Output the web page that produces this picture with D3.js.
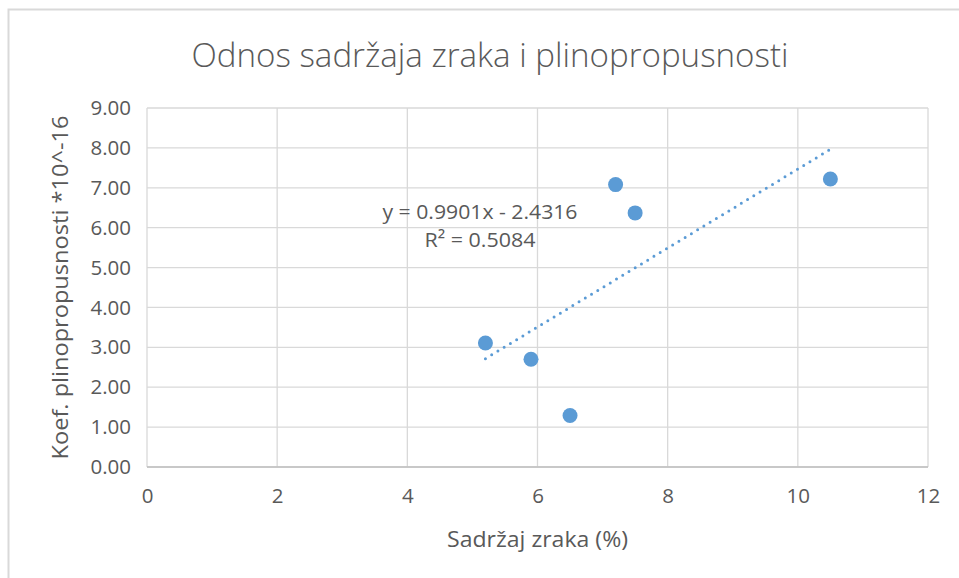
<!DOCTYPE html>
<html>
<head>
<meta charset="utf-8">
<script src="https://cdn.jsdelivr.net/npm/d3@7"></script>
<style>
  html, body { margin: 0; padding: 0; background: #fff; }
  svg { display: block; }
</style>
</head>
<body>
<div id="chart"></div>
<script>
// Air content (%) vs. gas permeability coefficient (*10^-16)
const airContent = [5.2, 5.9, 6.5, 7.2, 7.5, 10.5];
const permeability = [3.11, 2.70, 1.29, 7.08, 6.37, 7.22];
const xTicks = [0, 2, 4, 6, 8, 10, 12];
const yTicks = [0, 1, 2, 3, 4, 5, 6, 7, 8, 9];
const trendSlope = 0.9901;
const trendIntercept = -2.4316;
const rSquared = 0.5084;

const W = 959, H = 578;
const margin = { left: 147, right: 31, top: 108, bottom: 111 };
const font = "'Open Sans', 'Liberation Sans', sans-serif";
const textColor = "#595959";
const pointColor = "#5b9bd5";

const svg = d3.select("#chart").append("svg")
  .attr("width", W).attr("height", H);

// chart frame
svg.append("rect")
  .attr("x", 8.5).attr("y", 9.5)
  .attr("width", W + 10).attr("height", H + 10)
  .attr("fill", "#fff").attr("stroke", "#d9d9d9").attr("stroke-width", 2);

const x = d3.scaleLinear().domain([0, 12]).range([margin.left, W - margin.right]);
const y = d3.scaleLinear().domain([0, 9]).range([H - margin.bottom, margin.top]);

// gridlines
const grid = svg.append("g");
grid.selectAll(".gx").data(xTicks).join("line")
  .attr("x1", d => x(d)).attr("x2", d => x(d))
  .attr("y1", y(0)).attr("y2", y(9))
  .attr("stroke", "#d9d9d9").attr("stroke-width", 1.3);
grid.selectAll(".gy").data(yTicks).join("line")
  .attr("x1", x(0)).attr("x2", x(12))
  .attr("y1", d => y(d)).attr("y2", d => y(d))
  .attr("stroke", "#d9d9d9").attr("stroke-width", 1.3);

// axes (tick labels only)
const xAxis = svg.append("g")
  .attr("transform", `translate(0,${y(0)})`)
  .call(d3.axisBottom(x).tickValues(xTicks).tickSize(0).tickPadding(21).tickFormat(d3.format("d")));
const yAxis = svg.append("g")
  .attr("transform", `translate(${x(0)},0)`)
  .call(d3.axisLeft(y).tickValues(yTicks).tickSize(0).tickPadding(16).tickFormat(d3.format(".2f")));
[xAxis, yAxis].forEach(g => {
  g.select(".domain").remove();
  g.selectAll("text").attr("fill", textColor)
    .style("font-family", font).style("font-size", "20.5px");
});
svg.append("line")
  .attr("x1", x(0)).attr("x2", x(12)).attr("y1", y(0)).attr("y2", y(0))
  .attr("stroke", "#bfbfbf").attr("stroke-width", 1.3);

// linear trendline, dotted
const xMin = d3.min(airContent), xMax = d3.max(airContent);
svg.append("line")
  .attr("x1", x(xMin)).attr("y1", y(trendSlope * xMin + trendIntercept))
  .attr("x2", x(xMax)).attr("y2", y(trendSlope * xMax + trendIntercept))
  .attr("stroke", pointColor).attr("stroke-width", 3)
  .attr("stroke-dasharray", "0 7.3").attr("stroke-linecap", "round");

// data points
svg.selectAll(".pt").data(airContent).join("circle")
  .attr("cx", (d) => x(d))
  .attr("cy", (d, i) => y(permeability[i]))
  .attr("r", 7.5)
  .attr("fill", pointColor);

// trendline equation
const eq = svg.append("text")
  .attr("x", 480).attr("y", 219)
  .attr("text-anchor", "middle")
  .attr("fill", textColor)
  .style("font-family", font).style("font-size", "20px");
eq.append("tspan").attr("x", 480).attr("dy", 0)
  .attr("textLength", 195).attr("lengthAdjust", "spacingAndGlyphs")
  .text(`y = ${trendSlope}x - ${Math.abs(trendIntercept)}`);
eq.append("tspan").attr("x", 480).attr("dy", 28)
  .attr("textLength", 111).attr("lengthAdjust", "spacingAndGlyphs")
  .text(`R² = ${rSquared}`);

// title
svg.append("text")
  .attr("x", 490).attr("y", 67)
  .attr("text-anchor", "middle")
  .attr("fill", textColor)
  .attr("textLength", 597).attr("lengthAdjust", "spacingAndGlyphs")
  .style("font-family", font).style("font-size", "33px").style("font-weight", 300)
  .text("Odnos sadržaja zraka i plinopropusnosti");

// axis titles
svg.append("text")
  .attr("x", x(6)).attr("y", 547)
  .attr("text-anchor", "middle")
  .attr("fill", textColor)
  .attr("textLength", 181).attr("lengthAdjust", "spacingAndGlyphs")
  .style("font-family", font).style("font-size", "21px")
  .text("Sadržaj zraka (%)");

svg.append("text")
  .attr("transform", `translate(68,${y(4.5)}) rotate(-90)`)
  .attr("text-anchor", "middle")
  .attr("fill", textColor)
  .attr("textLength", 344).attr("lengthAdjust", "spacingAndGlyphs")
  .style("font-family", font).style("font-size", "21px")
  .text("Koef. plinopropusnosti *10^-16");
</script>
</body>
</html>
